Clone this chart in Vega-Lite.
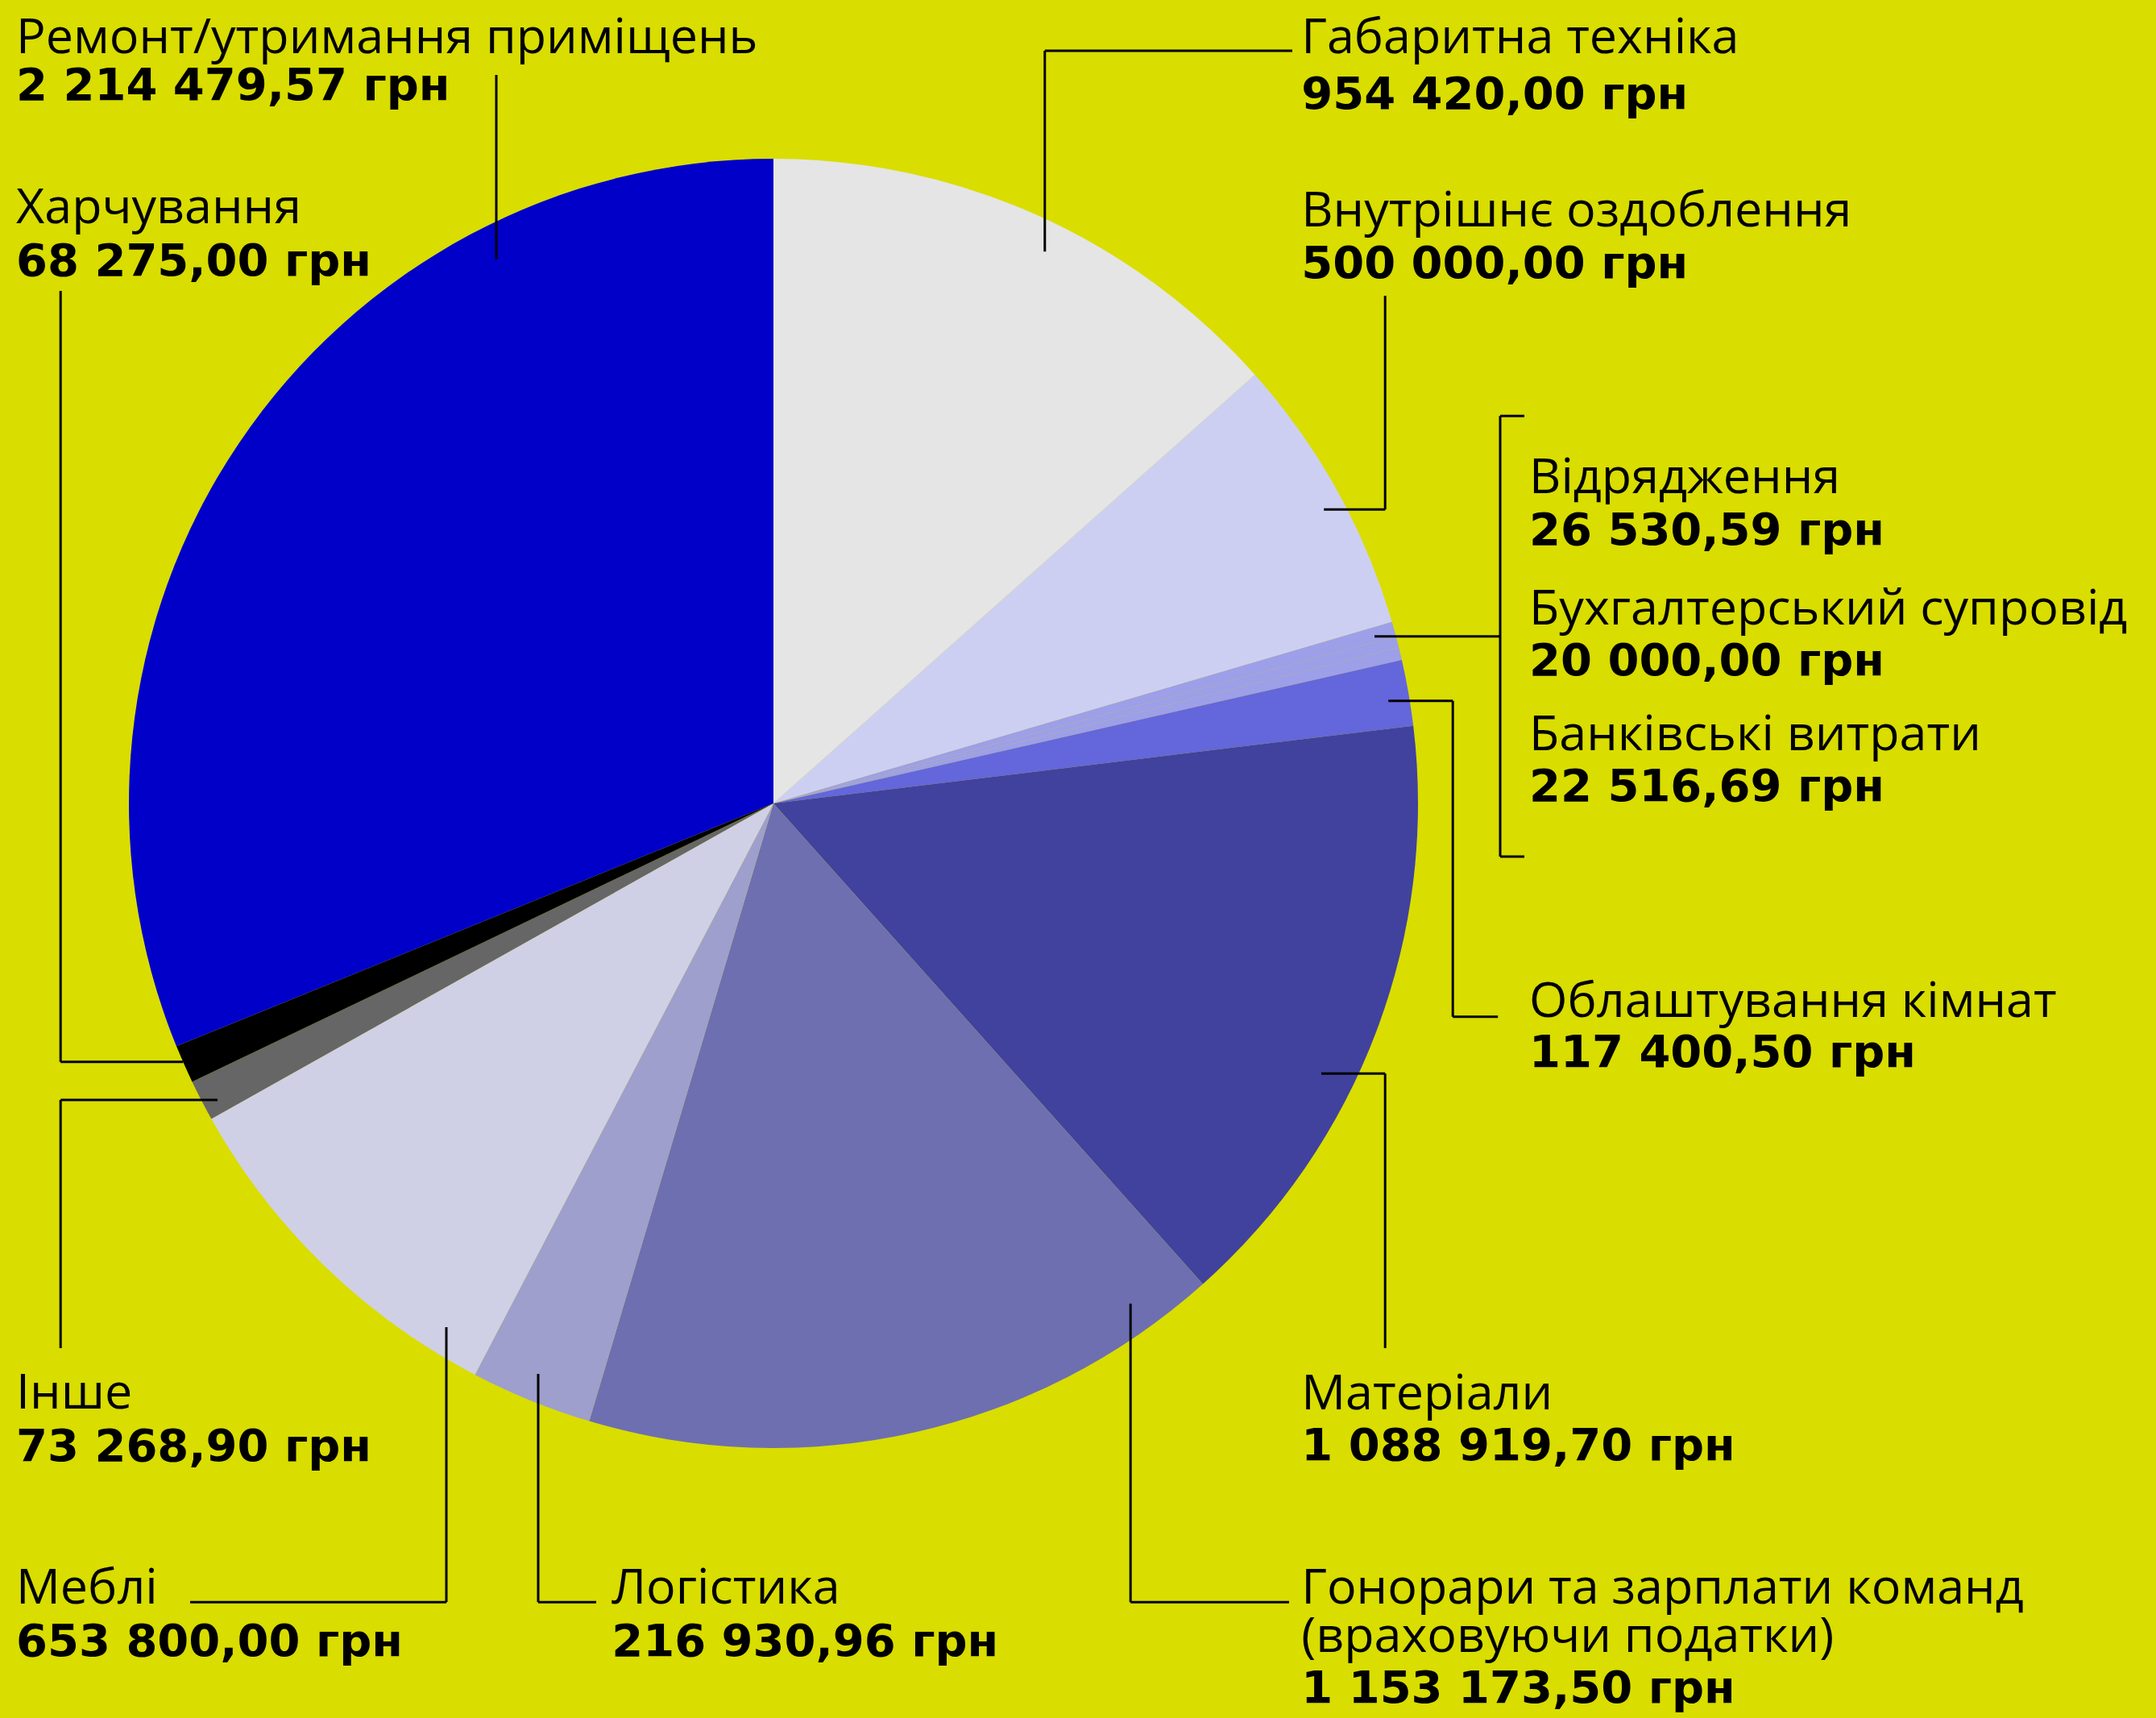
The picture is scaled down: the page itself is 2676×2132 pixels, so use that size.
{
  "$schema": "https://vega.github.io/schema/vega-lite/v6.json",
  "width": 2676,
  "height": 2132,
  "autosize": {"type": "none"},
  "padding": 0,
  "background": "#d9dd00",
  "config": {"view": {"stroke": null}},
  "datasets": {
    "slices": [
      {"ord": 1, "name": "Габаритна техніка", "value": 954420.00},
      {"ord": 2, "name": "Внутрішнє оздоблення", "value": 500000.00},
      {"ord": 3, "name": "Відрядження", "value": 26530.59},
      {"ord": 4, "name": "Бухгалтерський супровід", "value": 20000.00},
      {"ord": 5, "name": "Банківські витрати", "value": 22516.69},
      {"ord": 6, "name": "Облаштування кімнат", "value": 117400.50},
      {"ord": 7, "name": "Матеріали", "value": 1088919.70},
      {"ord": 8, "name": "Гонорари та зарплати команд (враховуючи податки)", "value": 1153173.50},
      {"ord": 9, "name": "Логістика", "value": 216930.96},
      {"ord": 10, "name": "Меблі", "value": 653800.00},
      {"ord": 11, "name": "Інше", "value": 73268.90},
      {"ord": 12, "name": "Харчування", "value": 68275.00},
      {"ord": 13, "name": "Ремонт/утримання приміщень", "value": 2214479.57}
    ],
    "labels": [
      {"kind": "name", "text": "Ремонт/утримання приміщень", "u": -117.5, "v": 116.4},
      {"kind": "amount", "text": "2 214 479,57 грн", "u": -117.5, "v": 109.1},
      {"kind": "name", "text": "Харчування", "u": -117.5, "v": 90.0},
      {"kind": "amount", "text": "68 275,00 грн", "u": -117.5, "v": 81.9},
      {"kind": "name", "text": "Габаритна техніка", "u": 81.9, "v": 116.4},
      {"kind": "amount", "text": "954 420,00 грн", "u": 81.9, "v": 107.8},
      {"kind": "name", "text": "Внутрішнє оздоблення", "u": 81.9, "v": 89.5},
      {"kind": "amount", "text": "500 000,00 грн", "u": 81.9, "v": 81.5},
      {"kind": "name", "text": "Відрядження", "u": 117.25, "v": 48.1},
      {"kind": "amount", "text": "26 530,59 грн", "u": 117.25, "v": 40.1},
      {"kind": "name", "text": "Бухгалтерський супровід", "u": 117.25, "v": 27.75},
      {"kind": "amount", "text": "20 000,00 грн", "u": 117.25, "v": 19.9},
      {"kind": "name", "text": "Банківські витрати", "u": 117.25, "v": 8.25},
      {"kind": "amount", "text": "22 516,69 грн", "u": 117.25, "v": 0.4},
      {"kind": "name", "text": "Облаштування кімнат", "u": 117.25, "v": -33.1},
      {"kind": "amount", "text": "117 400,50 грн", "u": 117.25, "v": -40.9},
      {"kind": "name", "text": "Матеріали", "u": 81.9, "v": -94.0},
      {"kind": "amount", "text": "1 088 919,70 грн", "u": 81.9, "v": -101.9},
      {"kind": "name", "text": "Гонорари та зарплати команд", "u": 81.9, "v": -124.1},
      {"kind": "name", "text": "(враховуючи податки)", "u": 81.9, "v": -131.6},
      {"kind": "amount", "text": "1 153 173,50 грн", "u": 81.9, "v": -139.5},
      {"kind": "name", "text": "Інше", "u": -117.5, "v": -93.9},
      {"kind": "amount", "text": "73 268,90 грн", "u": -117.5, "v": -102.0},
      {"kind": "name", "text": "Меблі", "u": -117.5, "v": -124.1},
      {"kind": "amount", "text": "653 800,00 грн", "u": -117.5, "v": -132.2},
      {"kind": "name", "text": "Логістика", "u": -25.1, "v": -124.1},
      {"kind": "amount", "text": "216 930,96 грн", "u": -25.1, "v": -132.2}
    ],
    "leaders": [
      {"u": -43.0, "v": 113.0, "u2": -43.0, "v2": 84.4},
      {"u": 42.1, "v": 116.75, "u2": 80.5, "v2": 116.75},
      {"u": 42.1, "v": 116.75, "u2": 42.1, "v2": 85.6},
      {"u": 94.9, "v": 78.75, "u2": 94.9, "v2": 45.6},
      {"u": 85.4, "v": 45.6, "u2": 94.9, "v2": 45.6},
      {"u": 112.75, "v": 60.1, "u2": 112.75, "v2": -8.25},
      {"u": 112.75, "v": 60.1, "u2": 116.5, "v2": 60.1},
      {"u": 112.75, "v": -8.25, "u2": 116.5, "v2": -8.25},
      {"u": 93.25, "v": 25.9, "u2": 112.75, "v2": 25.9},
      {"u": 95.4, "v": 15.9, "u2": 105.4, "v2": 15.9},
      {"u": 105.4, "v": 15.9, "u2": 105.4, "v2": -33.1},
      {"u": 105.4, "v": -33.1, "u2": 112.4, "v2": -33.1},
      {"u": 85.0, "v": -41.9, "u2": 94.9, "v2": -41.9},
      {"u": 94.9, "v": -41.9, "u2": 94.9, "v2": -84.5},
      {"u": 55.4, "v": -77.6, "u2": 55.4, "v2": -123.9},
      {"u": 55.4, "v": -123.9, "u2": 80.0, "v2": -123.9},
      {"u": -36.5, "v": -88.5, "u2": -36.5, "v2": -123.9},
      {"u": -36.5, "v": -123.9, "u2": -27.5, "v2": -123.9},
      {"u": -50.75, "v": -81.25, "u2": -50.75, "v2": -123.9},
      {"u": -90.5, "v": -123.9, "u2": -50.75, "v2": -123.9},
      {"u": -110.6, "v": -46.0, "u2": -110.6, "v2": -84.5},
      {"u": -110.6, "v": -46.0, "u2": -86.25, "v2": -46.0},
      {"u": -110.6, "v": 79.5, "u2": -110.6, "v2": -40.1},
      {"u": -110.6, "v": -40.1, "u2": -91.6, "v2": -40.1}
    ]
  },
  "layer": [
    {
      "data": {"name": "slices"},
      "mark": {"type": "arc", "outerRadius": 800, "stroke": null},
      "encoding": {
        "theta": {"field": "value", "type": "quantitative", "stack": true},
        "order": {"field": "ord", "type": "quantitative"},
        "color": {
          "field": "name",
          "type": "nominal",
          "legend": null,
          "scale": {
            "domain": ["Габаритна техніка", "Внутрішнє оздоблення", "Відрядження", "Бухгалтерський супровід", "Банківські витрати", "Облаштування кімнат", "Матеріали", "Гонорари та зарплати команд (враховуючи податки)", "Логістика", "Меблі", "Інше", "Харчування", "Ремонт/утримання приміщень"],
            "range": ["#e5e5e5", "#cdcff2", "#9d9fe8", "#9d9fe8", "#9d9fe8", "#6466dc", "#40429e", "#6e6fb0", "#9e9fcc", "#cfd0e5", "#666666", "#000000", "#0000c8"]
          }
        },
        "x": {"datum": 0, "type": "quantitative", "axis": null, "scale": {"domain": [-120, 214.5], "nice": false, "zero": false}},
        "y": {"datum": 0, "type": "quantitative", "axis": null, "scale": {"domain": [-141.875, 124.625], "nice": false, "zero": false}}
      }
    },
    {
      "data": {"name": "leaders"},
      "mark": {"type": "rule", "color": "#000000", "strokeWidth": 3},
      "encoding": {
        "x": {"field": "u", "type": "quantitative", "axis": null, "scale": {"domain": [-120, 214.5], "nice": false, "zero": false}},
        "y": {"field": "v", "type": "quantitative", "axis": null, "scale": {"domain": [-141.875, 124.625], "nice": false, "zero": false}},
        "x2": {"field": "u2"},
        "y2": {"field": "v2"}
      }
    },
    {
      "data": {"name": "labels"},
      "transform": [{"filter": "datum.kind === 'name'"}],
      "mark": {"type": "text", "align": "left", "baseline": "alphabetic", "font": "Open Sans", "fontSize": 61, "color": "#000000"},
      "encoding": {
        "x": {"field": "u", "type": "quantitative", "axis": null, "scale": {"domain": [-120, 214.5], "nice": false, "zero": false}},
        "y": {"field": "v", "type": "quantitative", "axis": null, "scale": {"domain": [-141.875, 124.625], "nice": false, "zero": false}},
        "text": {"field": "text"}
      }
    },
    {
      "data": {"name": "labels"},
      "transform": [{"filter": "datum.kind === 'amount'"}],
      "mark": {"type": "text", "align": "left", "baseline": "alphabetic", "font": "DejaVu Sans", "fontSize": 56, "fontWeight": "bold", "color": "#000000"},
      "encoding": {
        "x": {"field": "u", "type": "quantitative", "axis": null, "scale": {"domain": [-120, 214.5], "nice": false, "zero": false}},
        "y": {"field": "v", "type": "quantitative", "axis": null, "scale": {"domain": [-141.875, 124.625], "nice": false, "zero": false}},
        "text": {"field": "text"}
      }
    }
  ]
}
